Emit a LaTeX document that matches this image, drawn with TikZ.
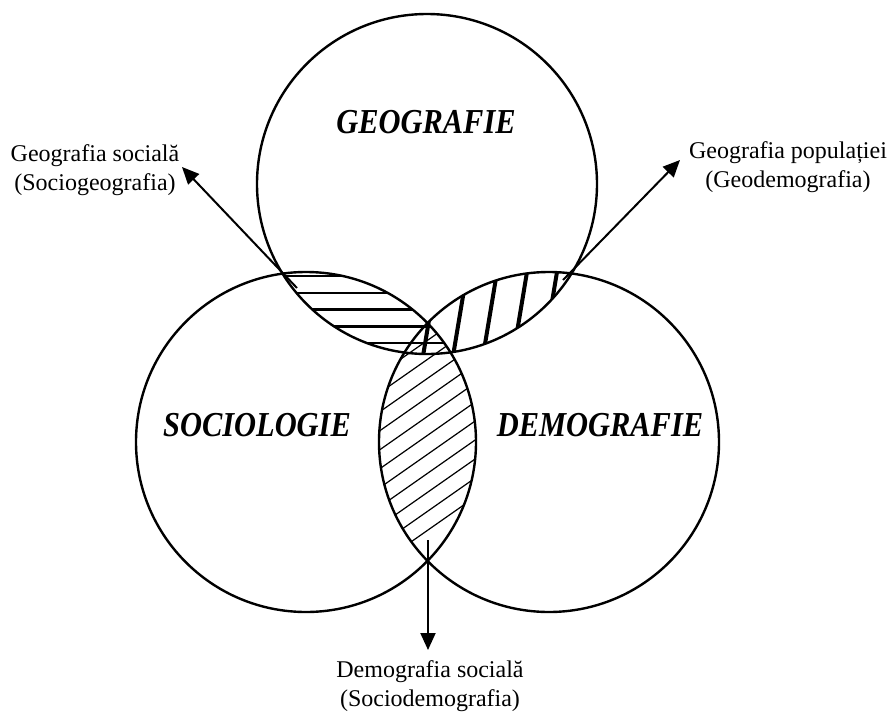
\documentclass[tikz,border=0pt]{standalone}
\usepackage{fontspec}
\setmainfont{Liberation Serif}
\usetikzlibrary{arrows.meta}
\newcommand{\circtitle}[1]{\scalebox{0.87}[1]{\fontsize{17.5}{17.5}\selectfont\bfseries\itshape #1}}

\begin{document}
\begin{tikzpicture}[x=0.5pt,y=-0.5pt,
  ring/.style={line width=1.2pt},
  lbl/.style={align=center,inner sep=0pt,font=\fontsize{12}{14.5}\selectfont},
  pointer/.style={line width=1pt,-{Triangle[length=8.5pt,width=7.5pt]}}]
\useasboundingbox (0,0) rectangle (891,713);
\coordinate (geo) at (427,184);
\coordinate (soc) at (306,442);
\coordinate (dem) at (549,442);

% hatching of the three overlaps
\begin{scope}
  \clip (geo) circle[radius=85pt];
  \clip (soc) circle[radius=85pt];
  \foreach \k in {0,...,5}
    \draw[line width=1.2pt] (200,276+16.8*\k) -- (520,276+16.8*\k);
\end{scope}
\begin{scope}
  \clip (geo) circle[radius=85pt];
  \clip (dem) circle[radius=85pt];
  \foreach \x in {424,454,...,574}
    \draw[line width=2pt] (\x-8.3,400) -- (\x+20,230);
\end{scope}
\begin{scope}
  \clip (soc) circle[radius=85pt];
  \clip (dem) circle[radius=85pt];
  \foreach \c in {302,321,...,530}
    \draw[line width=0.6pt] (360,\c+47.6) -- (500,\c-50.4);
\end{scope}

\draw[ring] (geo) circle[radius=85pt];
\draw[ring] (soc) circle[radius=85pt];
\draw[ring] (dem) circle[radius=85pt];

\node[inner sep=0pt] (tgeo) at (426,122) {\circtitle{GEOGRAFIE}};
\node[inner sep=0pt] (tsoc) at (257,425) {\circtitle{SOCIOLOGIE}};
\node[inner sep=0pt] (tdem) at (600,425) {\circtitle{DEMOGRAFIE}};

\node[lbl] (lsg) at (95,170) {Geografia socială\\(Sociogeografia)};
\node[lbl] (lgd) at (788,167) {Geografia populației\\(Geodemografia)};
\node[lbl] (lsd) at (430,686) {Demografia socială\\(Sociodemografia)};

\coordinate (sgfoot) at (297,288);
\coordinate (sgtip) at (182,167);
\coordinate (gdfoot) at (563,280);
\coordinate (gdtip) at (680,160);
\coordinate (sdfoot) at (428,540);
\coordinate (sdtip) at (428,650);
\draw[pointer] (sgfoot) -- (sgtip);
\draw[pointer] (gdfoot) -- (gdtip);
\draw[pointer] (sdfoot) -- (sdtip);
\end{tikzpicture}
\end{document}
